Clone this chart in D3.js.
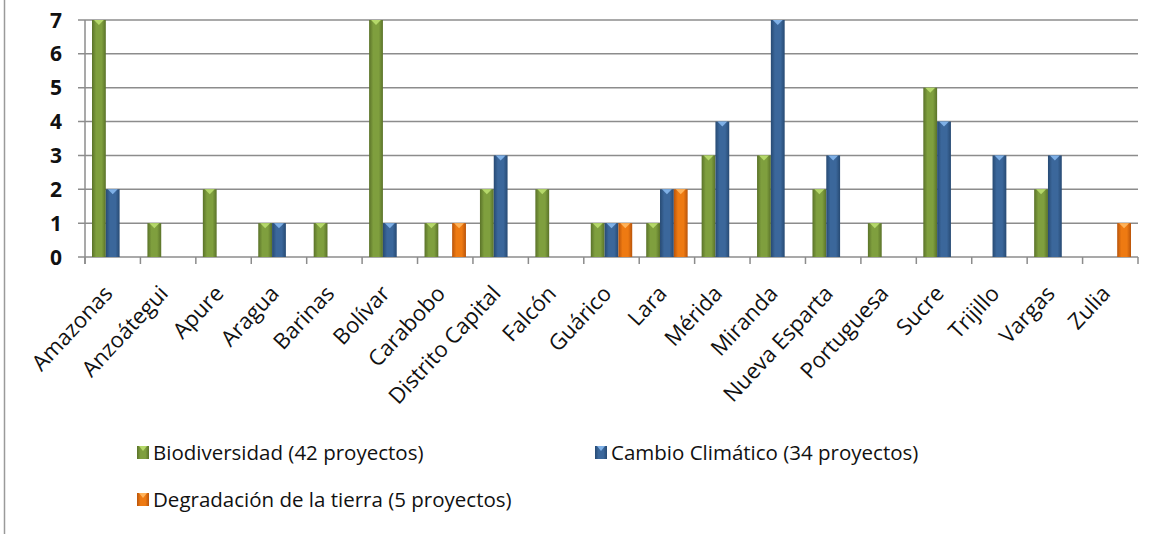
<!DOCTYPE html>
<html>
<head>
<meta charset="utf-8">
<script src="https://cdn.jsdelivr.net/npm/d3@7"></script>
<style>
  body { margin: 0; background: #fff; }
  text { font-family: "Open Sans", "Noto Sans", sans-serif; }
</style>
</head>
<body>
<svg id="chart" width="1161" height="534"></svg>
<script>
// data
var estados = ['Amazonas', 'Anzoátegui', 'Apure', 'Aragua', 'Barinas', 'Bolívar', 'Carabobo',
  'Distrito Capital', 'Falcón', 'Guárico', 'Lara', 'Mérida', 'Miranda', 'Nueva Esparta',
  'Portuguesa', 'Sucre', 'Trijillo', 'Vargas', 'Zulia'];
var biodiversidad = [7, 1, 2, 1, 1, 7, 1, 2, 2, 1, 1, 3, 3, 2, 1, 5, 0, 2, 0];
var cambio = [2, 0, 0, 1, 0, 1, 0, 3, 0, 1, 2, 4, 7, 3, 0, 4, 3, 3, 0];
var degradacion = [0, 0, 0, 0, 0, 0, 1, 0, 0, 1, 2, 0, 0, 0, 0, 0, 0, 0, 1];
var yTicks = [0, 1, 2, 3, 4, 5, 6, 7];

var series = [
  {name: 'Biodiversidad (42 proyectos)', values: biodiversidad, id: 'g', dark: '#5a7229', mid: '#7f9f3e', light: '#b5d86a'},
  {name: 'Cambio Climático (34 proyectos)', values: cambio, id: 'b', dark: '#274a73', mid: '#3b679b', light: '#7fb0e6'},
  {name: 'Degradación de la tierra (5 proyectos)', values: degradacion, id: 'o', dark: '#b9540a', mid: '#ee7a12', light: '#ffb35a'}
];

var svg = d3.select('#chart');
var plotLeft = 85, plotRight = 1138, plotTop = 20, plotBottom = 257;

var x = d3.scaleBand().domain(estados).range([plotLeft, plotRight]);
var y = d3.scaleLinear().domain([0, 7]).range([plotBottom, plotTop]);
var sub = d3.scaleBand().domain([0, 1, 2]).range([7, x.bandwidth() - 7]);

// frame line on the left
svg.append('line').attr('x1', 4.5).attr('x2', 4.5).attr('y1', 0).attr('y2', 534)
  .attr('stroke', '#9a9a9a').attr('stroke-width', 1.5);

var defs = svg.append('defs');
series.forEach(s => {
  var g = defs.append('linearGradient').attr('id', 'grad' + s.id)
    .attr('x1', '0%').attr('x2', '100%').attr('y1', '0%').attr('y2', '0%');
  g.append('stop').attr('offset', '0%').attr('stop-color', s.dark);
  g.append('stop').attr('offset', '30%').attr('stop-color', s.mid);
  g.append('stop').attr('offset', '70%').attr('stop-color', s.mid);
  g.append('stop').attr('offset', '100%').attr('stop-color', s.dark);
});

// gridlines
svg.append('g').selectAll('line').data(yTicks).join('line')
  .attr('x1', plotLeft - 7).attr('x2', plotRight)
  .attr('y1', d => y(d)).attr('y2', d => y(d))
  .attr('stroke', '#8c8c8c').attr('stroke-width', 1.5);

// y axis line
svg.append('line').attr('x1', plotLeft).attr('x2', plotLeft).attr('y1', plotTop).attr('y2', plotBottom + 7)
  .attr('stroke', '#8c8c8c').attr('stroke-width', 1.5);

// y labels
svg.append('g').selectAll('text').data(yTicks).join('text')
  .attr('x', 62).attr('y', d => y(d)).attr('dy', '0.36em')
  .attr('text-anchor', 'end').attr('font-size', 21).attr('font-weight', 'bold')
  .attr('fill', '#111').text(d => d);

// category ticks
svg.append('g').selectAll('line').data(estados.concat(['end'])).join('line')
  .attr('x1', (d, i) => plotLeft + i * x.step()).attr('x2', (d, i) => plotLeft + i * x.step())
  .attr('y1', plotBottom).attr('y2', plotBottom + 7)
  .attr('stroke', '#8c8c8c').attr('stroke-width', 1.5);

// bars
series.forEach((s, si) => {
  var g = svg.append('g');
  var data = estados.map((e, i) => ({e: e, v: s.values[i]})).filter(d => d.v > 0);
  g.selectAll('rect').data(data).join('rect')
    .attr('x', d => x(d.e) + sub(si))
    .attr('y', d => y(d.v))
    .attr('width', sub.bandwidth())
    .attr('height', d => y(0) - y(d.v))
    .attr('fill', 'url(#grad' + s.id + ')');
  g.selectAll('path').data(data).join('path')
    .attr('d', d => {
      var x0 = x(d.e) + sub(si), w = sub.bandwidth(), yy = y(d.v);
      return 'M' + (x0 + 2) + ',' + yy + 'L' + (x0 + w - 2) + ',' + yy + 'L' + (x0 + w / 2) + ',' + (yy + 5) + 'Z';
    })
    .attr('fill', s.light);
});

// x labels
svg.append('g').selectAll('text').data(estados).join('text')
  .attr('transform', d => 'translate(' + (x(d) + x.bandwidth() / 2 - 10) + ',' + (plotBottom + 27) + ') rotate(-47)')
  .attr('text-anchor', 'end').attr('dy', '0.7em')
  .attr('font-size', 22).attr('fill', '#111').text(d => d);

// legend
var legendPos = [[137, 453], [595, 453], [137, 500]];
series.forEach((s, i) => {
  var p = legendPos[i];
  svg.append('rect').attr('x', p[0]).attr('y', p[1] - 7).attr('width', 12).attr('height', 13)
    .attr('fill', 'url(#grad' + s.id + ')');
  svg.append('path')
    .attr('d', 'M' + (p[0] + 2) + ',' + (p[1] - 7) + 'L' + (p[0] + 10) + ',' + (p[1] - 7) + 'L' + (p[0] + 6) + ',' + (p[1] - 2) + 'Z')
    .attr('fill', s.light);
  svg.append('text').attr('x', p[0] + 16).attr('y', p[1]).attr('dy', '0.35em')
    .attr('font-size', 20.5).attr('fill', '#111').text(s.name);
});
</script>
</body>
</html>
